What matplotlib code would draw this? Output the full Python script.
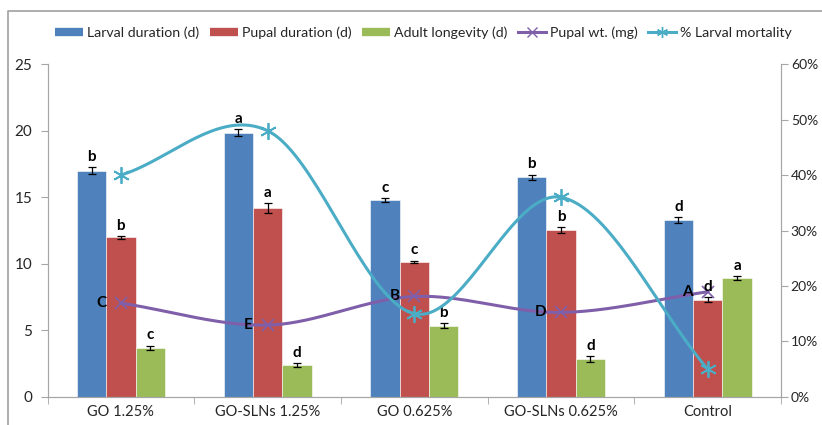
import numpy as np
import matplotlib.pyplot as plt
from matplotlib.lines import Line2D

plt.rcParams['font.family'] = ['Lato', 'DejaVu Sans']

treatments = ["GO 1.25%", "GO-SLNs 1.25%", "GO 0.625%", "GO-SLNs 0.625%", "Control"]

larval = [17.0, 19.85, 14.8, 16.5, 13.3]
larval_err = [0.25, 0.25, 0.15, 0.2, 0.2]
larval_sig = ["b", "a", "c", "b", "d"]

pupal = [12.0, 14.2, 10.15, 12.55, 7.3]
pupal_err = [0.1, 0.35, 0.1, 0.2, 0.2]
pupal_sig = ["b", "a", "c", "b", "d"]

adult = [3.7, 2.4, 5.35, 2.85, 8.9]
adult_err = [0.15, 0.15, 0.2, 0.2, 0.15]
adult_sig = ["c", "d", "b", "d", "a"]

pupal_wt = [7.05, 5.4, 7.55, 6.35, 7.9]
pupal_wt_sig = ["C", "E", "B", "D", "A"]

mortality = [40, 48, 15, 36, 5]  # percent


def smooth(x, y, n=40):
    # Catmull-Rom curve through the points (Excel-style smoothed line)
    x = np.asarray(x, float)
    y = np.asarray(y, float)
    px = np.concatenate([[2 * x[0] - x[1]], x, [2 * x[-1] - x[-2]]])
    py = np.concatenate([[2 * y[0] - y[1]], y, [2 * y[-1] - y[-2]]])
    xs, ys = [], []
    t = np.linspace(0, 1, n)
    for i in range(1, len(px) - 2):
        for p, out in ((px, xs), (py, ys)):
            p0, p1, p2, p3 = p[i - 1], p[i], p[i + 1], p[i + 2]
            out.extend(0.5 * (2 * p1 + (-p0 + p2) * t
                              + (2 * p0 - 5 * p1 + 4 * p2 - p3) * t ** 2
                              + (-p0 + 3 * p1 - 3 * p2 + p3) * t ** 3))
    return np.array(xs), np.array(ys)


blue = "#4f81bd"
red = "#c0504d"
green = "#9bbb59"
purple = "#7f5fa9"
cyan = "#4bacc6"
grey = "#a6a6a6"
txt = "#262626"

fig = plt.figure(figsize=(8.22, 4.25), dpi=100)
ax = fig.add_axes([0.0578, 0.066, 0.8924, 0.783])
ax2 = ax.twinx()

x = np.arange(len(treatments))
w = 0.2
err_kw = dict(ecolor="black", capsize=3, elinewidth=0.9, capthick=0.9)
groups = [(larval, larval_err, larval_sig, blue, "Larval duration (d)", -w),
          (pupal, pupal_err, pupal_sig, red, "Pupal duration (d)", 0),
          (adult, adult_err, adult_sig, green, "Adult longevity (d)", w)]
handles = []
for vals, errs, sig, col, lab, off in groups:
    ax.bar(x + off, vals, w, yerr=errs, color=col, edgecolor="white",
           linewidth=0.4, error_kw=err_kw, zorder=2)
    handles.append(Line2D([], [], color=col, lw=6, solid_capstyle="butt", label=lab))
    for xi, v, e, s in zip(x + off, vals, errs, sig):
        ax.text(xi, v + e + 0.25, s, ha="center", va="bottom",
                fontsize=11, fontweight="bold", zorder=5)

sx, sy = smooth(x, pupal_wt)
ax.plot(sx, sy, color=purple, lw=2.2, zorder=3)
ax.plot(x, pupal_wt, ls="none", marker="x", ms=9, mew=1.2, color=purple, zorder=4)
for xi, v, s in zip(x, pupal_wt, pupal_wt_sig):
    ax.text(xi - 0.1, v, s, ha="right", va="center", fontsize=11,
            fontweight="bold", zorder=5)
handles.append(Line2D([], [], color=purple, lw=2.2, marker="x", ms=7, mew=1,
                      label="Pupal wt. (mg)"))

mx, my = smooth(x, mortality)
ax2.plot(mx, my, color=cyan, lw=2.2, zorder=3)
ax2.plot(x, mortality, ls="none", marker=(6, 2, 0), ms=12, mew=1.3,
         color=cyan, zorder=4)
handles.append(Line2D([], [], color=cyan, lw=2.2, marker=(6, 2, 0), ms=8, mew=1,
                      label="% Larval mortality"))

ax.set_xlim(-0.5, len(treatments) - 0.5)
ax.set_ylim(0, 25)
ax.set_yticks(np.arange(0, 26, 5))
ax2.set_ylim(0, 60)
ax2.set_yticks(np.arange(0, 61, 10))
ax2.set_yticklabels([f"{v}%" for v in range(0, 61, 10)])

ax.set_xticks(x)
ax.set_xticklabels(treatments)
ax.set_xticks(np.arange(-0.5, len(treatments), 1), minor=True)
ax.tick_params(axis="x", which="major", length=0, labelsize=10.5, pad=6,
               colors=txt)
ax.tick_params(axis="x", which="minor", length=5, color=grey)
ax.tick_params(axis="y", length=5, color=grey, labelsize=11, labelcolor=txt, pad=6)
ax2.tick_params(axis="y", length=5, color=grey, labelsize=10, labelcolor=txt, pad=2)

for a in (ax, ax2):
    a.spines["top"].set_visible(False)
    for s in ("left", "right", "bottom"):
        a.spines[s].set_color(grey)
ax2.set_zorder(ax.get_zorder() + 1)
ax2.patch.set_visible(False)

leg = fig.legend(handles=handles, loc="center", bbox_to_anchor=(0.515, 0.922),
                 ncol=5, frameon=False, fontsize=10.2, handlelength=2.0,
                 handletextpad=0.25, columnspacing=0.75)
for t in leg.get_texts():
    t.set_color(txt)

# outer chart border (top and left edges)
fig.add_artist(Line2D([8 / 822, 8 / 822, 1.0], [0.0, 1 - 11 / 425, 1 - 11 / 425],
                      transform=fig.transFigure, color="#a0a0a0", lw=1.2))

fig.savefig("out.png", dpi=100)
